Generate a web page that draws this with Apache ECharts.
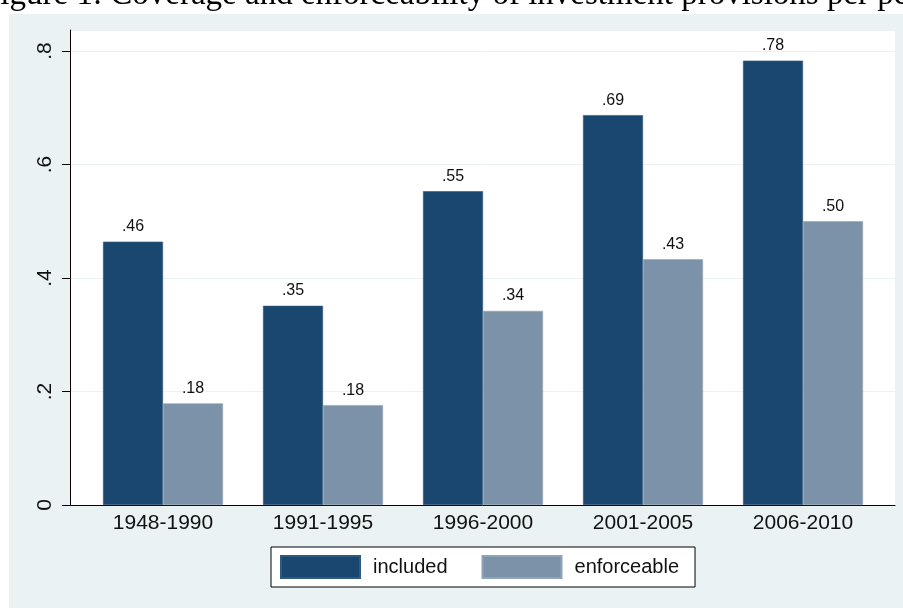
<!DOCTYPE html>
<html>
<head>
<meta charset="utf-8">
<script src="https://cdn.jsdelivr.net/npm/echarts@6/dist/echarts.min.js"></script>
<style>
html,body{margin:0;padding:0;background:#fff;}
#chart{width:903px;height:608px;}
</style>
</head>
<body>
<div id="chart"></div>
<script>
const titleText = 'Figure 1: Coverage and enforceability of investment provisions per period';
const categories = ['1948-1990', '1991-1995', '1996-2000', '2001-2005', '2006-2010'];
const included = [0.464, 0.351, 0.553, 0.687, 0.783];
const enforceable = [0.179, 0.176, 0.342, 0.433, 0.500];
const seriesNames = ['included', 'enforceable'];
const yTicks = [0, 0.2, 0.4, 0.6, 0.8];

const fmtVal = v => v.toFixed(2).replace(/^0/, '');
const fmtTick = v => {
  const r = Math.round(v * 10) / 10;
  return r === 0 ? '0' : String(r).replace(/^0/, '');
};

const chart = echarts.init(document.getElementById('chart'), null, {renderer: 'canvas'});
const YMAX = 0.837;
const font = '"Liberation Sans", Arial, sans-serif';

chart.setOption({
  backgroundColor: '#ffffff',
  animation: false,
  graphic: [
    {type: 'rect', z: -100, silent: true, shape: {x: 9, y: 14, width: 900, height: 600}, style: {fill: '#EAF2F3'}},
    {type: 'text', z: 10, silent: true, x: -18, y: -5,
     style: {text: titleText, font: '33px "Liberation Serif", "Times New Roman", serif', fill: '#000', verticalAlign: 'middle', align: 'left'}}
  ],
  legend: {
    data: seriesNames,
    left: 271, top: 547,
    padding: [8, 16, 8, 9],
    itemWidth: 79, itemHeight: 22, itemGap: 34,
    icon: 'rect',
    borderColor: '#000', borderWidth: 1,
    backgroundColor: '#fff',
    borderRadius: 0,
    textStyle: {fontFamily: font, fontSize: 20, color: '#111', padding: [0, 0, 0, 8]}
  },
  grid: [
    {left: 83, width: 800, top: 30, bottom: 103, containLabel: false},
    {left: 70, right: 8, top: 30, bottom: 103, show: true, backgroundColor: '#ffffff', borderWidth: 0, containLabel: false}
  ],
  xAxis: [
    {type: 'category', gridIndex: 0, data: categories,
     axisLine: {show: false}, axisTick: {show: false},
     axisLabel: {fontFamily: font, fontSize: 21, color: '#111', margin: 8},
     splitLine: {show: false}},
    {type: 'value', gridIndex: 1, min: 0, max: 1,
     axisLine: {show: true, lineStyle: {color: '#000', width: 1}},
     axisTick: {show: false}, axisLabel: {show: false}, splitLine: {show: false}}
  ],
  yAxis: [
    {type: 'value', gridIndex: 0, min: 0, max: YMAX, show: false, splitLine: {show: false}},
    {type: 'value', gridIndex: 1, min: 0, max: YMAX, interval: 0.2,
     axisLine: {show: true, lineStyle: {color: '#000', width: 1}},
     axisTick: {show: true, length: 8, lineStyle: {color: '#000'}},
     axisLabel: {show: true, rotate: 90, margin: 14, fontFamily: font, fontSize: 21, color: '#111',
       showMaxLabel: false,
       formatter: v => yTicks.some(t => Math.abs(t - v) < 1e-6) ? fmtTick(v) : ''},
     splitLine: {show: true, lineStyle: {color: '#EAF2F3', width: 1}}}
  ],
  series: [
    {name: seriesNames[0], type: 'bar', xAxisIndex: 0, yAxisIndex: 0, data: included,
     barWidth: 60, barGap: '0%', z: 5,
     itemStyle: {color: '#1A476F', borderColor: '#2f5a80', borderWidth: 0.6},
     label: {show: true, position: 'top', distance: 7, fontFamily: font, fontSize: 16, color: '#111', formatter: p => fmtVal(p.value)}},
    {name: seriesNames[1], type: 'bar', xAxisIndex: 0, yAxisIndex: 0, data: enforceable,
     barWidth: 60, barGap: '0%', z: 5,
     itemStyle: {color: '#7B92A8', borderColor: '#90a4b7', borderWidth: 0.6},
     label: {show: true, position: 'top', distance: 7, fontFamily: font, fontSize: 16, color: '#111', formatter: p => fmtVal(p.value)}}
  ]
});
</script>
</body>
</html>
